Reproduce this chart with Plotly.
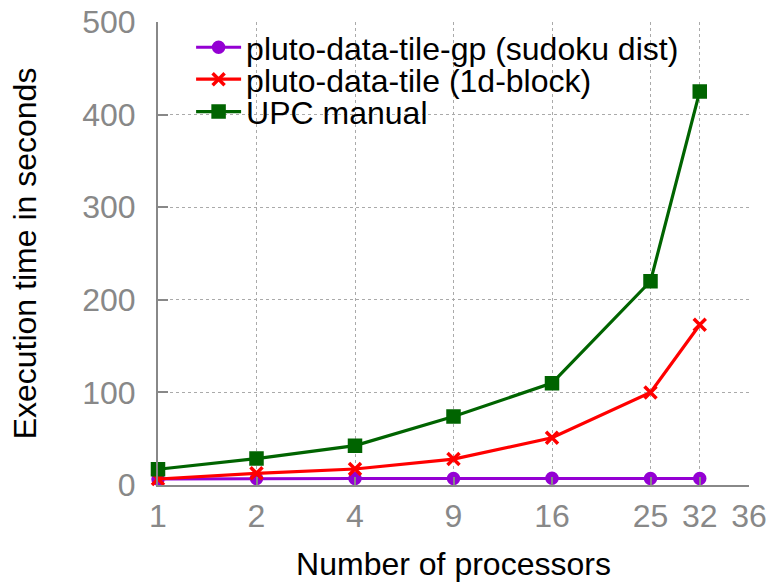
import plotly.graph_objects as go

# Processor counts that were measured, and the tick labels shown on the x axis
procs = ["1", "2", "4", "9", "16", "25", "32"]
tick_labels = ["1", "2", "4", "9", "16", "25", "32", "36"]
tick_pos = [0, 1, 2, 3, 4, 5, 5.5, 6]

# Execution time in seconds for each variant
gp_sudoku = [6.5, 7.0, 7.0, 7.0, 7.2, 7.0, 7.0]
tile_1d = [6.5, 12.6, 17.3, 28.0, 51.0, 100.0, 173.0]
upc_manual = [17.0, 28.5, 42.5, 74.0, 110.0, 220.0, 425.0]

pos_of = dict(zip(tick_labels, tick_pos))
x_vals = [pos_of[p] for p in procs]

FONT = "Liberation Sans, Arial, Helvetica, sans-serif"
GRAY = "#888888"
FS = 32

series = [
    ("pluto-data-tile-gp (sudoku dist)", gp_sudoku, "#9400D3", "circle", 10, "legend"),
    ("pluto-data-tile (1d-block)", tile_1d, "#FF0000", "x-thin", 12, "legend2"),
    ("UPC manual", upc_manual, "#006400", "square", 11, "legend3"),
]

fig = go.Figure()
for name, vals, color, sym, size, leg in series:
    fig.add_trace(go.Scatter(
        x=x_vals, y=vals, name=name, mode="lines+markers",
        line=dict(color=color, width=3.2),
        marker=dict(symbol=sym, size=size, color=color,
                    line=dict(color=color, width=3.5)),
        cliponaxis=False, legend=leg,
    ))

leg_common = dict(font=dict(family=FONT, size=FS, color="black"),
                  bgcolor="rgba(0,0,0,0)", xanchor="left", yanchor="middle",
                  x=0.056, itemwidth=45, tracegroupgap=0)

fig.update_layout(
    width=769, height=587,
    margin=dict(l=158, r=20, t=22, b=102, autoexpand=False),
    plot_bgcolor="white", paper_bgcolor="white",
    showlegend=True,
    legend=dict(leg_common, y=0.945),
    legend2=dict(leg_common, y=0.876),
    legend3=dict(leg_common, y=0.806),
    xaxis=dict(
        range=[0, 6], tickmode="array", tickvals=tick_pos, ticktext=tick_labels,
        showline=True, linecolor=GRAY, linewidth=2,
        ticks="inside", ticklen=8, tickcolor=GRAY, tickwidth=1.5,
        showgrid=True, gridcolor="#aaaaaa", gridwidth=1, griddash="dot",
        zeroline=False, automargin=False, ticklabelstandoff=2,
        tickfont=dict(family=FONT, size=FS, color=GRAY),
        title=dict(text="Number of processors", font=dict(family=FONT, size=FS, color="black"), standoff=19),
    ),
    yaxis=dict(
        range=[0, 500], tickmode="array", tickvals=[0, 100, 200, 300, 400, 500],
        showline=True, linecolor=GRAY, linewidth=2,
        ticks="inside", ticklen=10, tickcolor=GRAY, tickwidth=1.5,
        showgrid=True, gridcolor="#aaaaaa", gridwidth=1, griddash="dot",
        zeroline=False, automargin=False, ticklabelstandoff=14,
        tickfont=dict(family=FONT, size=FS, color=GRAY),
        title=dict(text="Execution time in seconds", font=dict(family=FONT, size=FS, color="black"), standoff=36),
    ),
    shapes=[dict(type="rect", xref="paper", yref="paper",
                 x0=0.025, x1=1.0, y0=0.774, y1=0.984,
                 fillcolor="white", line=dict(width=0), layer="between")],
)

fig.write_html("out.html")
